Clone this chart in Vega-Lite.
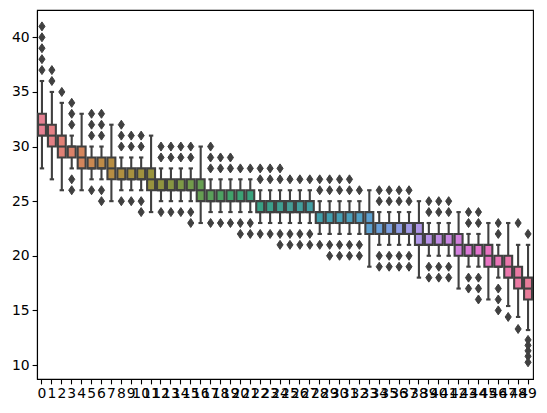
{
  "$schema": "https://vega.github.io/schema/vega-lite/v6.json",
  "autosize": "none",
  "padding": {"left": 37, "top": 10, "right": 14, "bottom": 34},
  "width": 496,
  "height": 369,
  "datasets": {
    "boxes": [
      {"c": 0, "lo": 28, "q1": 31, "med": 32, "q3": 33, "hi": 36},
      {"c": 1, "lo": 27, "q1": 30, "med": 31, "q3": 32, "hi": 35},
      {"c": 2, "lo": 26, "q1": 29, "med": 30, "q3": 31, "hi": 34},
      {"c": 3, "lo": 28, "q1": 29, "med": 30, "q3": 30, "hi": 31},
      {"c": 4, "lo": 26, "q1": 28, "med": 29, "q3": 30, "hi": 33},
      {"c": 5, "lo": 27, "q1": 28, "med": 28, "q3": 29, "hi": 30},
      {"c": 6, "lo": 27, "q1": 28, "med": 28, "q3": 29, "hi": 30},
      {"c": 7, "lo": 25, "q1": 27, "med": 28, "q3": 29, "hi": 32},
      {"c": 8, "lo": 26, "q1": 27, "med": 27, "q3": 28, "hi": 29},
      {"c": 9, "lo": 26, "q1": 27, "med": 27, "q3": 28, "hi": 29},
      {"c": 10, "lo": 26, "q1": 27, "med": 27, "q3": 28, "hi": 29},
      {"c": 11, "lo": 24, "q1": 26, "med": 27, "q3": 28, "hi": 31},
      {"c": 12, "lo": 25, "q1": 26, "med": 26, "q3": 27, "hi": 28},
      {"c": 13, "lo": 25, "q1": 26, "med": 26, "q3": 27, "hi": 28},
      {"c": 14, "lo": 25, "q1": 26, "med": 26, "q3": 27, "hi": 28},
      {"c": 15, "lo": 25, "q1": 26, "med": 26, "q3": 27, "hi": 28},
      {"c": 16, "lo": 23, "q1": 25, "med": 26, "q3": 27, "hi": 30},
      {"c": 17, "lo": 24, "q1": 25, "med": 25, "q3": 26, "hi": 27},
      {"c": 18, "lo": 24, "q1": 25, "med": 25, "q3": 26, "hi": 27},
      {"c": 19, "lo": 24, "q1": 25, "med": 25, "q3": 26, "hi": 27},
      {"c": 20, "lo": 24, "q1": 25, "med": 25, "q3": 26, "hi": 27},
      {"c": 21, "lo": 24, "q1": 25, "med": 25, "q3": 26, "hi": 27},
      {"c": 22, "lo": 23, "q1": 24, "med": 24, "q3": 25, "hi": 26},
      {"c": 23, "lo": 23, "q1": 24, "med": 24, "q3": 25, "hi": 26},
      {"c": 24, "lo": 23, "q1": 24, "med": 24, "q3": 25, "hi": 26},
      {"c": 25, "lo": 23, "q1": 24, "med": 24, "q3": 25, "hi": 26},
      {"c": 26, "lo": 23, "q1": 24, "med": 24, "q3": 25, "hi": 26},
      {"c": 27, "lo": 23, "q1": 24, "med": 24, "q3": 25, "hi": 26},
      {"c": 28, "lo": 22, "q1": 23, "med": 23, "q3": 24, "hi": 25},
      {"c": 29, "lo": 22, "q1": 23, "med": 23, "q3": 24, "hi": 25},
      {"c": 30, "lo": 22, "q1": 23, "med": 23, "q3": 24, "hi": 25},
      {"c": 31, "lo": 22, "q1": 23, "med": 23, "q3": 24, "hi": 25},
      {"c": 32, "lo": 22, "q1": 23, "med": 23, "q3": 24, "hi": 25},
      {"c": 33, "lo": 19, "q1": 22, "med": 23, "q3": 24, "hi": 26},
      {"c": 34, "lo": 21, "q1": 22, "med": 22, "q3": 23, "hi": 24},
      {"c": 35, "lo": 21, "q1": 22, "med": 22, "q3": 23, "hi": 24},
      {"c": 36, "lo": 21, "q1": 22, "med": 22, "q3": 23, "hi": 24},
      {"c": 37, "lo": 21, "q1": 22, "med": 22, "q3": 23, "hi": 24},
      {"c": 38, "lo": 18, "q1": 21, "med": 22, "q3": 23, "hi": 25},
      {"c": 39, "lo": 20, "q1": 21, "med": 21, "q3": 22, "hi": 23},
      {"c": 40, "lo": 20, "q1": 21, "med": 21, "q3": 22, "hi": 23},
      {"c": 41, "lo": 20, "q1": 21, "med": 21, "q3": 22, "hi": 23},
      {"c": 42, "lo": 17, "q1": 20, "med": 21, "q3": 22, "hi": 24},
      {"c": 43, "lo": 19, "q1": 20, "med": 20, "q3": 21, "hi": 22},
      {"c": 44, "lo": 19, "q1": 20, "med": 20, "q3": 21, "hi": 22},
      {"c": 45, "lo": 16, "q1": 19, "med": 20, "q3": 21, "hi": 23},
      {"c": 46, "lo": 18, "q1": 19, "med": 19, "q3": 20, "hi": 21},
      {"c": 47, "lo": 15.4, "q1": 18, "med": 19, "q3": 20, "hi": 23},
      {"c": 48, "lo": 14.4, "q1": 17, "med": 18, "q3": 19, "hi": 21},
      {"c": 49, "lo": 13.2, "q1": 16, "med": 17, "q3": 18, "hi": 21}
    ],
    "fliers": [
      {"c": 0, "v": 37}, {"c": 0, "v": 38}, {"c": 0, "v": 39}, {"c": 0, "v": 40}, {"c": 0, "v": 41},
      {"c": 1, "v": 36}, {"c": 1, "v": 37},
      {"c": 2, "v": 35},
      {"c": 3, "v": 32}, {"c": 3, "v": 33}, {"c": 3, "v": 34}, {"c": 3, "v": 27}, {"c": 3, "v": 26},
      {"c": 5, "v": 31}, {"c": 5, "v": 32}, {"c": 5, "v": 33}, {"c": 5, "v": 26},
      {"c": 6, "v": 31}, {"c": 6, "v": 32}, {"c": 6, "v": 33}, {"c": 6, "v": 26}, {"c": 6, "v": 25},
      {"c": 8, "v": 30}, {"c": 8, "v": 31}, {"c": 8, "v": 32}, {"c": 8, "v": 25},
      {"c": 9, "v": 30}, {"c": 9, "v": 31}, {"c": 9, "v": 25},
      {"c": 10, "v": 30}, {"c": 10, "v": 31}, {"c": 10, "v": 25}, {"c": 10, "v": 24},
      {"c": 12, "v": 29}, {"c": 12, "v": 30}, {"c": 12, "v": 24},
      {"c": 13, "v": 29}, {"c": 13, "v": 30}, {"c": 13, "v": 24},
      {"c": 14, "v": 29}, {"c": 14, "v": 30}, {"c": 14, "v": 24},
      {"c": 15, "v": 29}, {"c": 15, "v": 30}, {"c": 15, "v": 24}, {"c": 15, "v": 23},
      {"c": 17, "v": 28}, {"c": 17, "v": 29}, {"c": 17, "v": 30}, {"c": 17, "v": 23},
      {"c": 18, "v": 28}, {"c": 18, "v": 29}, {"c": 18, "v": 23},
      {"c": 19, "v": 28}, {"c": 19, "v": 29}, {"c": 19, "v": 23},
      {"c": 20, "v": 28}, {"c": 20, "v": 23}, {"c": 20, "v": 22},
      {"c": 21, "v": 28}, {"c": 21, "v": 23}, {"c": 21, "v": 22},
      {"c": 22, "v": 27}, {"c": 22, "v": 28}, {"c": 22, "v": 22},
      {"c": 23, "v": 27}, {"c": 23, "v": 28}, {"c": 23, "v": 22},
      {"c": 24, "v": 27}, {"c": 24, "v": 28}, {"c": 24, "v": 22}, {"c": 24, "v": 21},
      {"c": 25, "v": 27}, {"c": 25, "v": 22}, {"c": 25, "v": 21},
      {"c": 26, "v": 27}, {"c": 26, "v": 22}, {"c": 26, "v": 21},
      {"c": 27, "v": 27}, {"c": 27, "v": 22}, {"c": 27, "v": 21},
      {"c": 28, "v": 26}, {"c": 28, "v": 27}, {"c": 28, "v": 21},
      {"c": 29, "v": 26}, {"c": 29, "v": 27}, {"c": 29, "v": 21}, {"c": 29, "v": 20},
      {"c": 30, "v": 26}, {"c": 30, "v": 27}, {"c": 30, "v": 21}, {"c": 30, "v": 20},
      {"c": 31, "v": 26}, {"c": 31, "v": 27}, {"c": 31, "v": 21}, {"c": 31, "v": 20},
      {"c": 32, "v": 26}, {"c": 32, "v": 21}, {"c": 32, "v": 20},
      {"c": 34, "v": 25}, {"c": 34, "v": 26}, {"c": 34, "v": 20}, {"c": 34, "v": 19},
      {"c": 35, "v": 25}, {"c": 35, "v": 26}, {"c": 35, "v": 20}, {"c": 35, "v": 19},
      {"c": 36, "v": 25}, {"c": 36, "v": 26}, {"c": 36, "v": 20}, {"c": 36, "v": 19},
      {"c": 37, "v": 25}, {"c": 37, "v": 26}, {"c": 37, "v": 20}, {"c": 37, "v": 19},
      {"c": 39, "v": 24}, {"c": 39, "v": 25}, {"c": 39, "v": 19}, {"c": 39, "v": 18},
      {"c": 40, "v": 24}, {"c": 40, "v": 25}, {"c": 40, "v": 19}, {"c": 40, "v": 18},
      {"c": 41, "v": 24}, {"c": 41, "v": 25}, {"c": 41, "v": 19}, {"c": 41, "v": 18},
      {"c": 43, "v": 23}, {"c": 43, "v": 24}, {"c": 43, "v": 18}, {"c": 43, "v": 17},
      {"c": 44, "v": 23}, {"c": 44, "v": 24}, {"c": 44, "v": 18}, {"c": 44, "v": 17}, {"c": 44, "v": 16},
      {"c": 46, "v": 22}, {"c": 46, "v": 23}, {"c": 46, "v": 17}, {"c": 46, "v": 16}, {"c": 46, "v": 15},
      {"c": 47, "v": 14.4},
      {"c": 48, "v": 23}, {"c": 48, "v": 13.3},
      {"c": 49, "v": 22}, {"c": 49, "v": 12.3}, {"c": 49, "v": 11.8}, {"c": 49, "v": 11.3}, {"c": 49, "v": 10.8}, {"c": 49, "v": 10.25}
    ]
  },
  "encoding": {
    "x": {
      "field": "c",
      "type": "ordinal",
      "scale": {"domain": [0,1,2,3,4,5,6,7,8,9,10,11,12,13,14,15,16,17,18,19,20,21,22,23,24,25,26,27,28,29,30,31,32,33,34,35,36,37,38,39,40,41,42,43,44,45,46,47,48,49], "paddingInner": 0, "paddingOuter": 0},
      "axis": {"title": null, "labelAngle": 0, "labelOverlap": false, "labelBound": false}
    }
  },
  "layer": [
    {
      "data": {"name": "boxes"},
      "mark": {"type": "rule", "color": "#404040", "strokeWidth": 2.1},
      "encoding": {
        "y": {"field": "lo", "type": "quantitative", "scale": {"domain": [8.72, 42.5], "nice": false, "zero": false}, "axis": {"title": null, "values": [10, 15, 20, 25, 30, 35, 40]}},
        "y2": {"field": "hi"}
      }
    },
    {
      "data": {"name": "boxes"},
      "mark": {"type": "bar", "width": {"band": 0.8}, "stroke": "#404040", "strokeWidth": 2.1, "opacity": 1},
      "encoding": {
        "y": {"field": "q1", "type": "quantitative"},
        "y2": {"field": "q3"},
        "fill": {
          "field": "c",
          "type": "quantitative",
          "legend": null,
          "scale": {
            "domain": [0, 6.25, 12.5, 18.75, 25, 31.25, 37.5, 43.75, 50],
            "range": ["#e68193", "#bb8c45", "#8c9540", "#42a269", "#459e97", "#4c9fbd", "#ab99e7", "#e274d1", "#e68193"],
            "interpolate": "hcl"
          }
        }
      }
    },
    {
      "data": {"name": "boxes"},
      "mark": {"type": "tick", "color": "#404040", "thickness": 2.1, "size": 7.9, "opacity": 1},
      "encoding": {"y": {"field": "med", "type": "quantitative"}}
    },
    {
      "data": {"name": "boxes"},
      "mark": {"type": "tick", "color": "#404040", "thickness": 2.1, "size": 4.4, "opacity": 1},
      "encoding": {"y": {"field": "lo", "type": "quantitative"}}
    },
    {
      "data": {"name": "boxes"},
      "mark": {"type": "tick", "color": "#404040", "thickness": 2.1, "size": 4.4, "opacity": 1},
      "encoding": {"y": {"field": "hi", "type": "quantitative"}}
    },
    {
      "data": {"name": "fliers"},
      "mark": {"type": "point", "shape": "M0,-1L0.68,0L0,1L-0.68,0Z", "size": 81, "filled": true, "color": "#404040", "stroke": "#404040", "strokeWidth": 1, "opacity": 1},
      "encoding": {"y": {"field": "v", "type": "quantitative"}}
    }
  ],
  "config": {
    "font": "DejaVu Sans",
    "view": {"stroke": "black", "strokeWidth": 1.1},
    "axis": {
      "grid": false,
      "domainColor": "black",
      "domainWidth": 1.1,
      "tickColor": "black",
      "tickWidth": 1.1,
      "tickSize": 4.9,
      "labelColor": "black",
      "labelFont": "DejaVu Sans",
      "labelFontSize": 13.9,
      "labelPadding": 3
    }
  }
}
